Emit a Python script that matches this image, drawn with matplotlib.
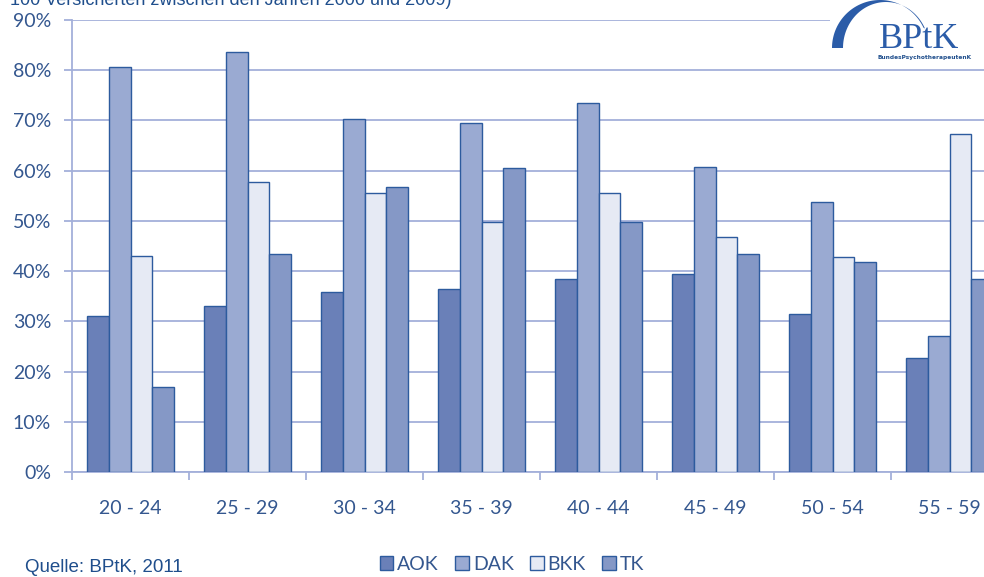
import numpy as np
import matplotlib
matplotlib.use("Agg")
import matplotlib.pyplot as plt
from matplotlib.patches import Polygon, Rectangle, Patch

# Daten (Anteil in %)
gruppen = ["20 - 24", "25 - 29", "30 - 34", "35 - 39", "40 - 44", "45 - 49", "50 - 54", "55 - 59"]
kassen = ["AOK", "DAK", "BKK", "TK"]
aok = [31.0, 33.0, 35.8, 36.4, 38.4, 39.4, 31.5, 22.7]
dak = [80.7, 83.6, 70.3, 69.5, 73.4, 60.7, 53.8, 27.1]
bkk = [43.0, 57.7, 55.6, 49.8, 55.6, 46.8, 42.8, 67.4]
tk = [17.0, 43.4, 56.7, 60.5, 49.8, 43.4, 41.9, 38.4]

farben = ["#6a80b8", "#9aaad2", "#e6eaf4", "#8598c6"]
rand = "#2d5b9e"
gitter = "#a4b0da"
textfarbe = "#34578f"

W, H = 984, 577
fig = plt.figure(figsize=(W / 100, H / 100), dpi=100)

def px(x, y):
    # Pixelkoordinaten (von oben links) -> Figure-Koordinaten
    return x / W, 1 - y / H

# Achse geht rechts ueber das Bild hinaus (wie im Original abgeschnitten)
ax = fig.add_axes([72 / W, 105 / H, 936 / W, 452 / H])

x = np.arange(len(gruppen))
b = 0.184
serien = [aok, dak, bkk, tk]
for i, (werte, farbe) in enumerate(zip(serien, farben)):
    ax.bar(x + (i - 1.5) * b, werte, width=b, color=farbe, edgecolor=rand,
           linewidth=1.0, zorder=3)

ax.set_xlim(-0.5, len(gruppen) - 0.5)
ax.set_ylim(0, 90)
ax.set_yticks(np.arange(0, 91, 10))
ax.set_yticklabels([f"{v}%" for v in range(0, 91, 10)])
ax.grid(axis="y", color=gitter, linewidth=1.3, zorder=0)
ax.set_axisbelow(True)

ax.set_xticks(np.arange(-0.5, len(gruppen), 1))
ax.set_xticklabels([])
ax.set_xticks(x, minor=True)
ax.set_xticklabels(gruppen, minor=True)

for s in ["top", "right"]:
    ax.spines[s].set_visible(False)
for s in ["left", "bottom"]:
    ax.spines[s].set_color(gitter)
    ax.spines[s].set_linewidth(1.3)

ax.tick_params(axis="y", length=6, width=1.3, color=gitter, pad=9,
               labelsize=14, labelcolor=textfarbe)
ax.tick_params(axis="x", which="major", length=6, width=1.3, color=gitter)
ax.tick_params(axis="x", which="minor", length=0, pad=20,
               labelsize=14, labelcolor=textfarbe)
for lab in ax.get_yticklabels() + ax.get_xticklabels(minor=True):
    lab.set_family("Lato")

# abgeschnittener Titel oben
fig.text(*px(10, 5), "100 Versicherten zwischen den Jahren 2000 und 2009)",
         fontsize=13, family="Liberation Sans", color="#1f4e8c",
         ha="left", va="baseline")

# Logo
fig.patches.append(Rectangle(px(830, 63), 154 / W, 63 / H, transform=fig.transFigure,
                             facecolor="white", edgecolor="none", zorder=5))
t_out = np.radians(np.linspace(180, 25, 60))
t_in = np.radians(np.linspace(25, 180, 60))
aussen = [px(880 + 48 * np.cos(t), 48 - 48 * np.sin(t)) for t in t_out]
innen = [px(886 + 43 * np.cos(t), 48 - 46 * np.sin(t)) for t in t_in]
fig.patches.append(Polygon(aussen + innen, closed=True, transform=fig.transFigure,
                           facecolor="#2b5ca8", edgecolor="none", zorder=6))
fig.text(*px(879, 48), "BPtK", fontsize=26, family="Liberation Serif",
         color="#2b5ca8", ha="left", va="baseline", zorder=7)
fig.text(*px(878, 59), "BundesPsychotherapeutenK", fontsize=4.2,
         fontweight="bold", family="Liberation Sans Narrow", color="#1f4e8c",
         ha="left", va="baseline", zorder=7)

# Legende
griffe = [Patch(facecolor=f, edgecolor=rand, linewidth=1.0) for f in farben]
leg = fig.legend(griffe, kassen, loc="center", bbox_to_anchor=px(512, 564),
                 ncol=4, frameon=False, handlelength=0.7, handleheight=0.7,
                 handletextpad=0.2, columnspacing=0.85,
                 prop={"family": "Lato", "size": 14})
for t in leg.get_texts():
    t.set_color(textfarbe)

fig.text(*px(25, 568), "Quelle: BPtK, 2011", fontsize=13.5, family="Liberation Sans",
         color="#1f4e8c", ha="left", va="center")

fig.savefig("out.png", dpi=100)
